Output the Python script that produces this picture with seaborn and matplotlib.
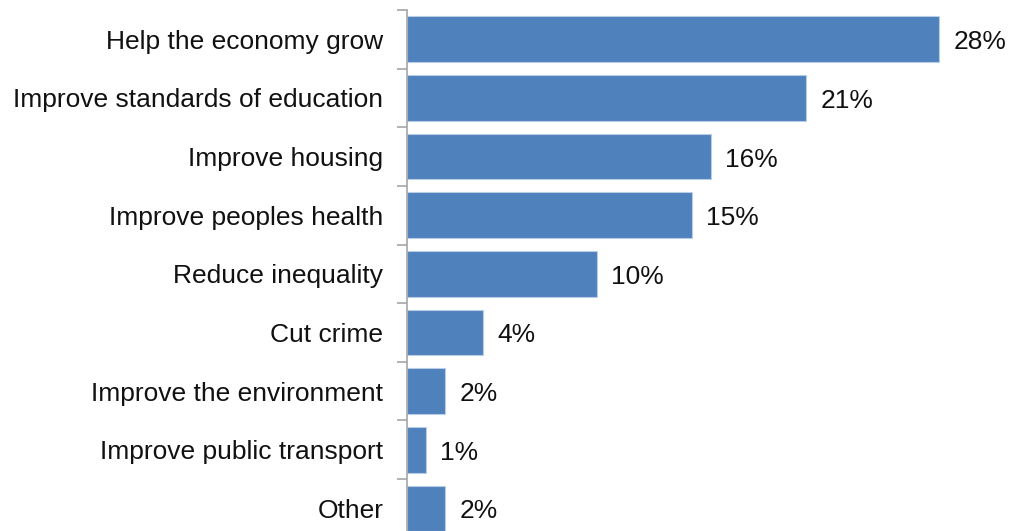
import matplotlib
matplotlib.use("Agg")
import matplotlib.pyplot as plt
import seaborn as sns
import pandas as pd
import numpy as np
from matplotlib.ticker import FixedLocator

categories = [
    "Help the economy grow",
    "Improve standards of education",
    "Improve housing",
    "Improve peoples health",
    "Reduce inequality",
    "Cut crime",
    "Improve the environment",
    "Improve public transport",
    "Other",
]
values = [28, 21, 16, 15, 10, 4, 2, 1, 2]

sns.set_style("white")
plt.rcParams["font.family"] = ["Liberation Sans", "DejaVu Sans"]

df = pd.DataFrame({"reason": categories, "pct": values})

fig = plt.figure(figsize=(10.12, 5.31), dpi=100)
ax = fig.add_axes([407 / 1012, 1 - 537.7 / 531, 1 - 407 / 1012, 527.7 / 531])

sns.barplot(data=df, x="pct", y="reason", orient="h", color="#4F81BD",
            saturation=1, width=0.78, edgecolor="#B9CDE5", linewidth=0.8, ax=ax)

ax.set_xlim(0, 605 / 19.0)
ax.set_ylim(len(categories) - 0.5, -0.5)
ax.set_xlabel("")
ax.set_ylabel("")
ax.set_xticks([])

for sp in ["top", "right", "bottom"]:
    ax.spines[sp].set_visible(False)
ax.spines["left"].set_color("#A6A6A6")
ax.spines["left"].set_linewidth(1.2)

ax.yaxis.set_minor_locator(FixedLocator(np.arange(-0.5, len(categories), 1.0)))
ax.tick_params(axis="y", which="major", length=0, pad=17, labelsize=19, labelcolor="#111111")
ax.tick_params(axis="y", which="minor", length=7, width=1.2, color="#A6A6A6", left=True)

for i, v in enumerate(values):
    ax.text(v + 0.75, i + 0.05, f"{v}%", va="center", ha="left", fontsize=19, color="#111111")

fig.savefig("out.png", dpi=100)
